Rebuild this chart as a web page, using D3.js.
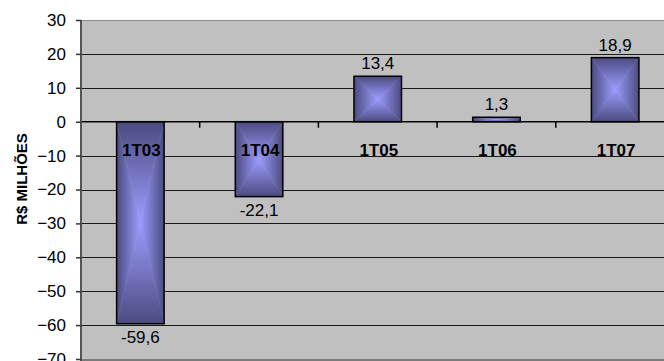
<!DOCTYPE html>
<html>
<head>
<meta charset="utf-8">
<script src="https://cdn.jsdelivr.net/npm/d3@7/dist/d3.min.js"></script>
<style>
  html, body { margin: 0; padding: 0; background: #fff; }
  svg { display: block; font-family: "Liberation Sans", Arial, sans-serif; }
</style>
</head>
<body>
<svg id="chart" width="664" height="361"></svg>
<script>
// Quarterly result, R$ millions
const categories = ["1T03", "1T04", "1T05", "1T06", "1T07"];
const values = [-59.6, -22.1, 13.4, 1.3, 18.9];
const valueLabels = ["-59,6", "-22,1", "13,4", "1,3", "18,9"];
const yTicks = [30, 20, 10, 0, -10, -20, -30, -40, -50, -60, -70];

const svg = d3.select("#chart");
const plot = { left: 81, top: 20, right: 674.5, bottom: 359 };

const x = d3.scaleBand()
  .domain(categories)
  .range([plot.left, plot.right])
  .paddingInner(0.6)
  .paddingOuter(0.3);

const y = d3.scaleLinear().domain([-70, 30]).range([plot.bottom, plot.top]);

// Gradients for the "from centre" bar fill: dark edges, light centre
const defs = svg.append("defs");
const edge = "#4b4b80", centre = "#9c9cff";
[["gTop", 0, 0, 0, 1], ["gBottom", 0, 1, 0, 0], ["gLeft", 0, 0, 1, 0], ["gRight", 1, 0, 0, 0]]
  .forEach(([id, x1, y1, x2, y2]) => {
    const g = defs.append("linearGradient").attr("id", id)
      .attr("x1", x1).attr("y1", y1).attr("x2", x2).attr("y2", y2);
    g.append("stop").attr("offset", 0).attr("stop-color", edge);
    g.append("stop").attr("offset", 1).attr("stop-color", centre);
  });

// Plot background
svg.append("rect")
  .attr("x", plot.left).attr("y", plot.top)
  .attr("width", plot.right - plot.left).attr("height", plot.bottom - plot.top)
  .attr("fill", "#c0c0c0");

// Horizontal gridlines
svg.append("g").selectAll("line")
  .data(yTicks.filter(d => d !== 30 && d !== -70 && d !== 0))
  .join("line")
  .attr("x1", plot.left).attr("x2", plot.right)
  .attr("y1", d => Math.round(y(d)) + 0.5).attr("y2", d => Math.round(y(d)) + 0.5)
  .attr("stroke", "#1a1a1a").attr("stroke-width", 1);

// Plot frame top / bottom
svg.append("line")
  .attr("x1", plot.left).attr("x2", plot.right)
  .attr("y1", plot.top + 0.5).attr("y2", plot.top + 0.5)
  .attr("stroke", "#8a8a8a").attr("stroke-width", 1);
svg.append("line")
  .attr("x1", plot.left).attr("x2", plot.right)
  .attr("y1", plot.bottom + 1).attr("y2", plot.bottom + 1)
  .attr("stroke", "#7a7a7a").attr("stroke-width", 2);

// Bars: four triangles meeting at the centre, each shaded edge → centre
const bars = svg.append("g").selectAll("g")
  .data(categories.map((c, i) => ({ c, v: values[i], label: valueLabels[i] })))
  .join("g");

bars.each(function (d) {
  const g = d3.select(this);
  const x0 = x(d.c), x1 = x(d.c) + x.bandwidth();
  const yA = Math.min(y(0), y(d.v)), yB = Math.max(y(0), y(d.v));
  const cx = (x0 + x1) / 2, cy = (yA + yB) / 2;
  const tri = [
    ["gTop", [[x0, yA], [x1, yA], [cx, cy]]],
    ["gBottom", [[x0, yB], [x1, yB], [cx, cy]]],
    ["gLeft", [[x0, yA], [x0, yB], [cx, cy]]],
    ["gRight", [[x1, yA], [x1, yB], [cx, cy]]]
  ];
  tri.forEach(([id, pts]) => {
    g.append("polygon")
      .attr("points", pts.map(p => p.join(",")).join(" "))
      .attr("fill", `url(#${id})`)
      .attr("stroke", `url(#${id})`)
      .attr("stroke-width", 0.4);
  });
  g.append("rect")
    .attr("x", x0).attr("y", yA)
    .attr("width", x1 - x0).attr("height", yB - yA)
    .attr("fill", "none").attr("stroke", "#000").attr("stroke-width", 1.5);
});

// Zero line with category ticks
svg.append("line")
  .attr("x1", plot.left).attr("x2", plot.right)
  .attr("y1", y(0)).attr("y2", y(0))
  .attr("stroke", "#000").attr("stroke-width", 1.5);
const step = x.step();
svg.append("g").selectAll("line")
  .data(d3.range(1, categories.length))
  .join("line")
  .attr("x1", i => plot.left + i * (plot.right - plot.left) / categories.length)
  .attr("x2", i => plot.left + i * (plot.right - plot.left) / categories.length)
  .attr("y1", y(0)).attr("y2", y(0) + 6)
  .attr("stroke", "#000").attr("stroke-width", 1.5);

// Category labels
svg.append("g").selectAll("text")
  .data(categories)
  .join("text")
  .attr("x", d => x(d) + x.bandwidth() / 2 + 1)
  .attr("y", y(0) + 34)
  .attr("text-anchor", "middle")
  .attr("font-weight", "bold")
  .attr("font-size", 17)
  .attr("fill", "#000")
  .text(d => d);

// Value labels
bars.append("text")
  .attr("x", d => x(d.c) + x.bandwidth() / 2)
  .attr("y", d => d.v >= 0 ? y(d.v) - 7 : y(d.v) + 19)
  .attr("text-anchor", "middle")
  .attr("font-size", 17)
  .attr("fill", "#000")
  .text(d => d.label);

// Y axis
const yAxis = svg.append("g")
  .attr("transform", `translate(${plot.left},0)`)
  .call(d3.axisLeft(y).tickValues(yTicks).tickSize(5).tickPadding(10).tickFormat(d3.format("d")));
yAxis.select(".domain").attr("stroke", "#555").attr("stroke-width", 2)
  .attr("d", `M0,${plot.top}V361`);
yAxis.selectAll(".tick line").attr("stroke", "#333").attr("stroke-width", 1.5);
yAxis.selectAll(".tick text")
  .attr("font-size", 17)
  .attr("font-family", "Liberation Sans, Arial, sans-serif")
  .attr("fill", "#000");

// Y axis title
svg.append("text")
  .attr("transform", "translate(27,179) rotate(-90)")
  .attr("text-anchor", "middle")
  .attr("font-weight", "bold")
  .attr("font-size", 15)
  .attr("fill", "#000")
  .text("R$ MILHÕES");
</script>
</body>
</html>
